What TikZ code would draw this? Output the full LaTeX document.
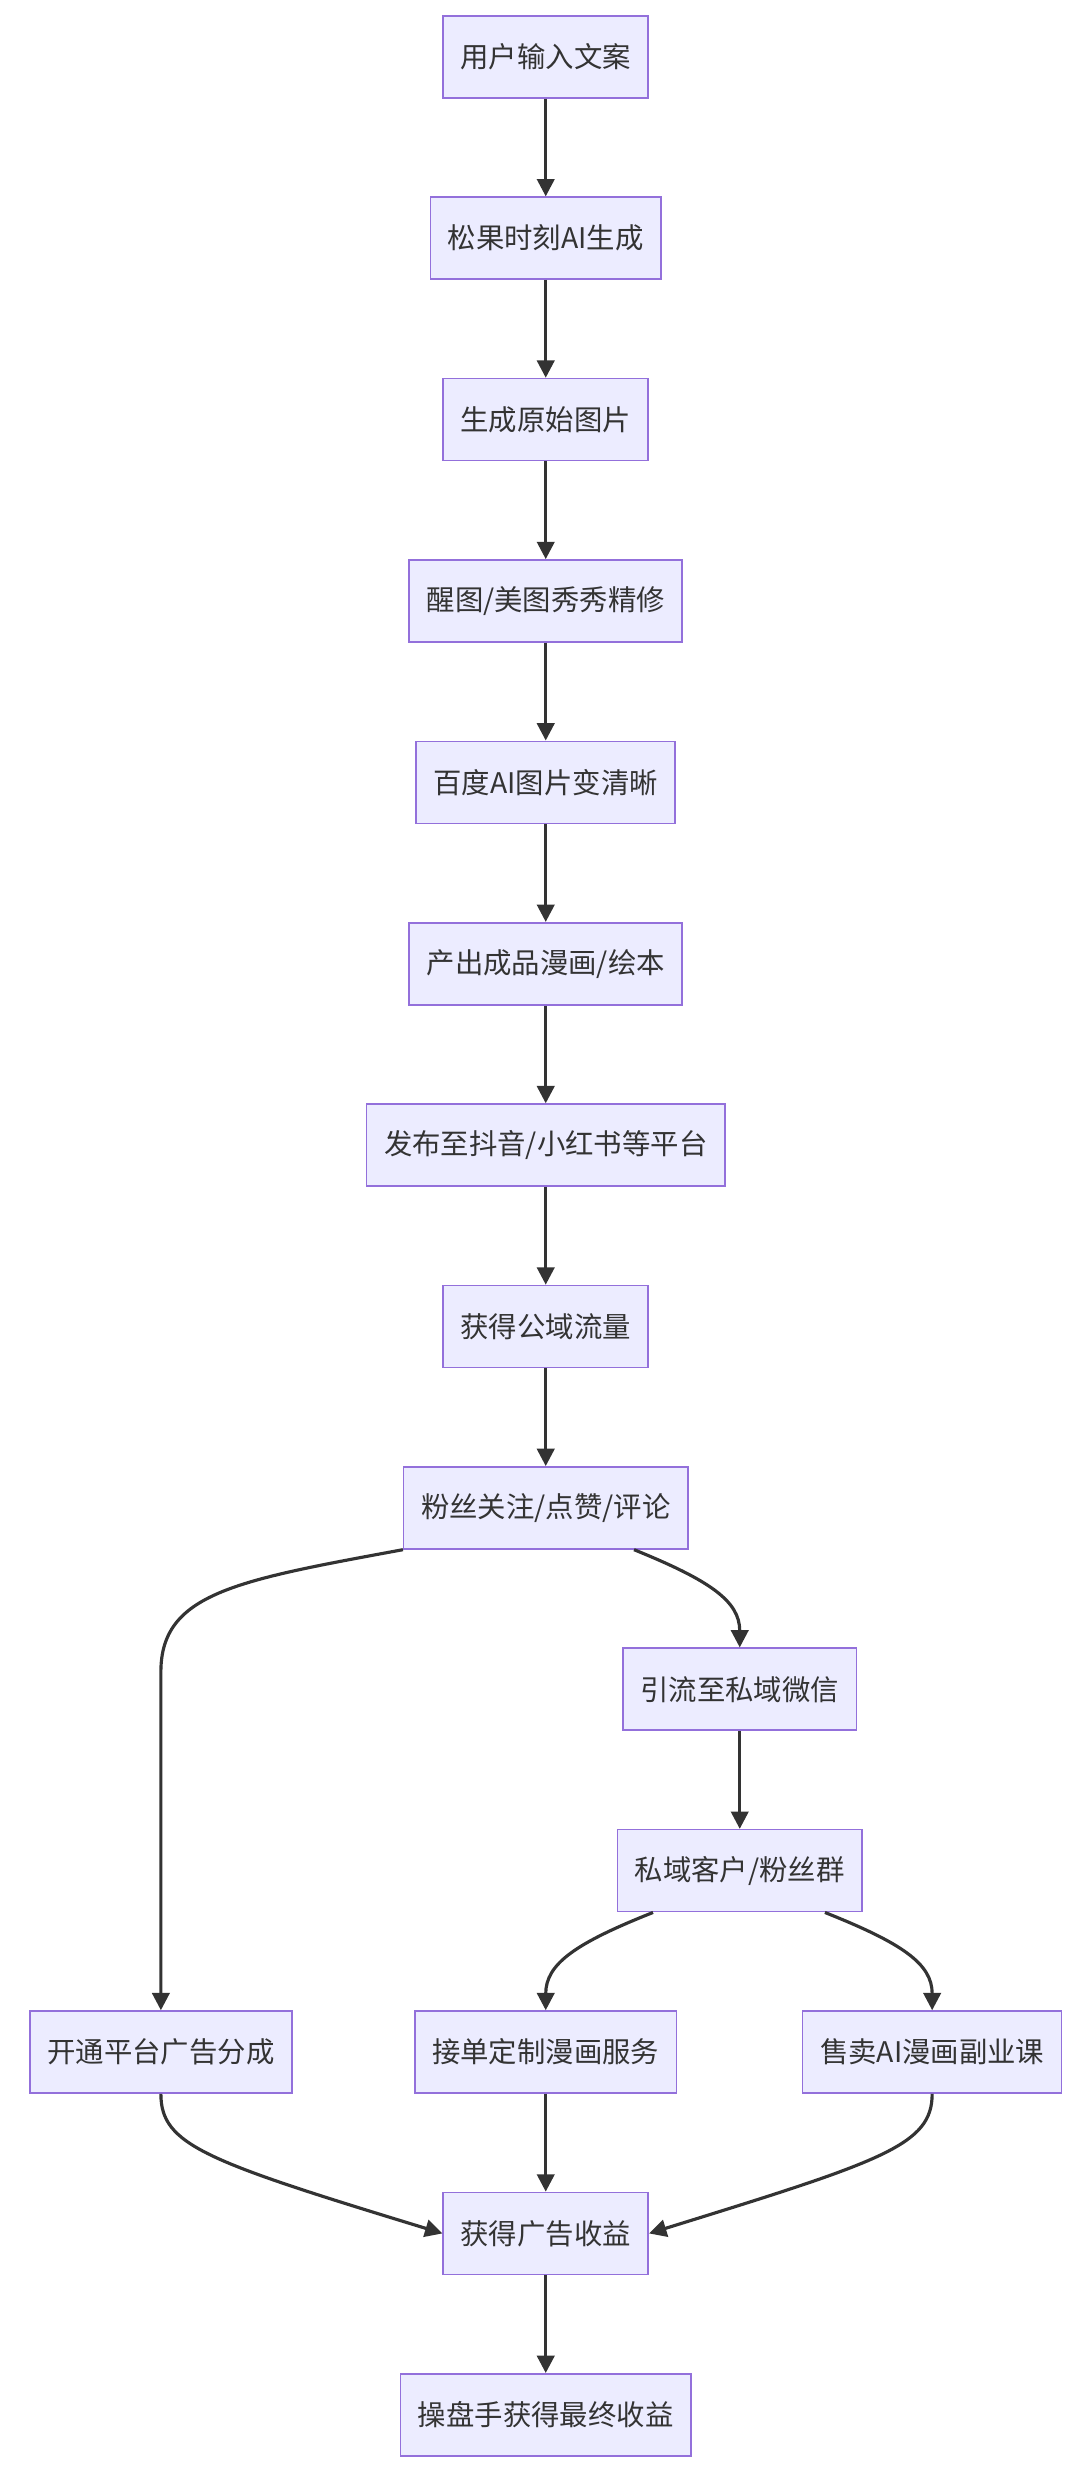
\documentclass[tikz,border=0pt]{standalone}
\usepackage{fontspec}
\setmainfont{Noto Sans CJK SC}
\usepackage{tikz}
\usetikzlibrary{arrows.meta,positioning}
\definecolor{boxfill}{HTML}{ECECFF}
\definecolor{boxline}{HTML}{9370DB}
\definecolor{edgeline}{HTML}{333333}
\begin{document}
\begin{tikzpicture}[x=1pt,y=-1pt]
                \tikzset{block/.style={draw=boxline, fill=boxfill, line width=1pt, rectangle, minimum height=52pt, inner xsep=11pt, font=\fontsize{18}{20}\selectfont, text=edgeline},
                         flow/.style={draw=edgeline, line width=2pt, -{Triangle[length=11pt,width=11pt]}}}
                \useasboundingbox (0,0) rectangle (690,1566);

                \node [block] (input) at (346,36) {用户输入文案};
                \node [block] (ai) at (346,151) {松果时刻AI生成};
                \node [block] (raw) at (346,266) {生成原始图片};
                \node [block] (retouch) at (346,381) {醒图/美图秀秀精修};
                \node [block] (sharpen) at (346,496) {百度AI图片变清晰};
                \node [block] (comic) at (346,611) {产出成品漫画/绘本};
                \node [block] (publish) at (346,726) {发布至抖音/小红书等平台};
                \node [block] (traffic) at (346,841) {获得公域流量};
                \node [block] (fans) at (346,956) {粉丝关注/点赞/评论};
                \node [block] (wechat) at (469,1071) {引流至私域微信};
                \node [block] (group) at (469,1186) {私域客户/粉丝群};
                \node [block] (adshare) at (102,1301) {开通平台广告分成};
                \node [block] (custom) at (346,1301) {接单定制漫画服务};
                \node [block] (course) at (591,1301) {售卖AI漫画副业课};
                \node [block] (adincome) at (346,1416) {获得广告收益};
                \node [block] (final) at (346,1531) {操盘手获得最终收益};

                \draw [flow] (input) -- (ai);
                \draw [flow] (ai) -- (raw);
                \draw [flow] (raw) -- (retouch);
                \draw [flow] (retouch) -- (sharpen);
                \draw [flow] (sharpen) -- (comic);
                \draw [flow] (comic) -- (publish);
                \draw [flow] (publish) -- (traffic);
                \draw [flow] (traffic) -- (fans);
                \draw [flow] (fans.south west) .. controls (150,1002) and (102,1010) .. (102,1060) -- (adshare.north);
                \draw [flow] ([xshift=56pt]fans.south) .. controls (450,1002) and (469,1015) .. (wechat.north);
                \draw [flow] (wechat) -- (group);
                \draw [flow] ([xshift=-55pt]group.south) .. controls (365,1232) and (346,1245) .. (custom.north);
                \draw [flow] ([xshift=54pt]group.south) .. controls (572,1232) and (591,1245) .. (course.north);
                \draw [flow] (adshare.south) .. controls (102,1360) and (130,1370) .. (adincome.west);
                \draw [flow] (custom) -- (adincome);
                \draw [flow] (course.south) .. controls (591,1360) and (560,1370) .. (adincome.east);
                \draw [flow] (adincome) -- (final);
                \end{tikzpicture}
\end{document}
